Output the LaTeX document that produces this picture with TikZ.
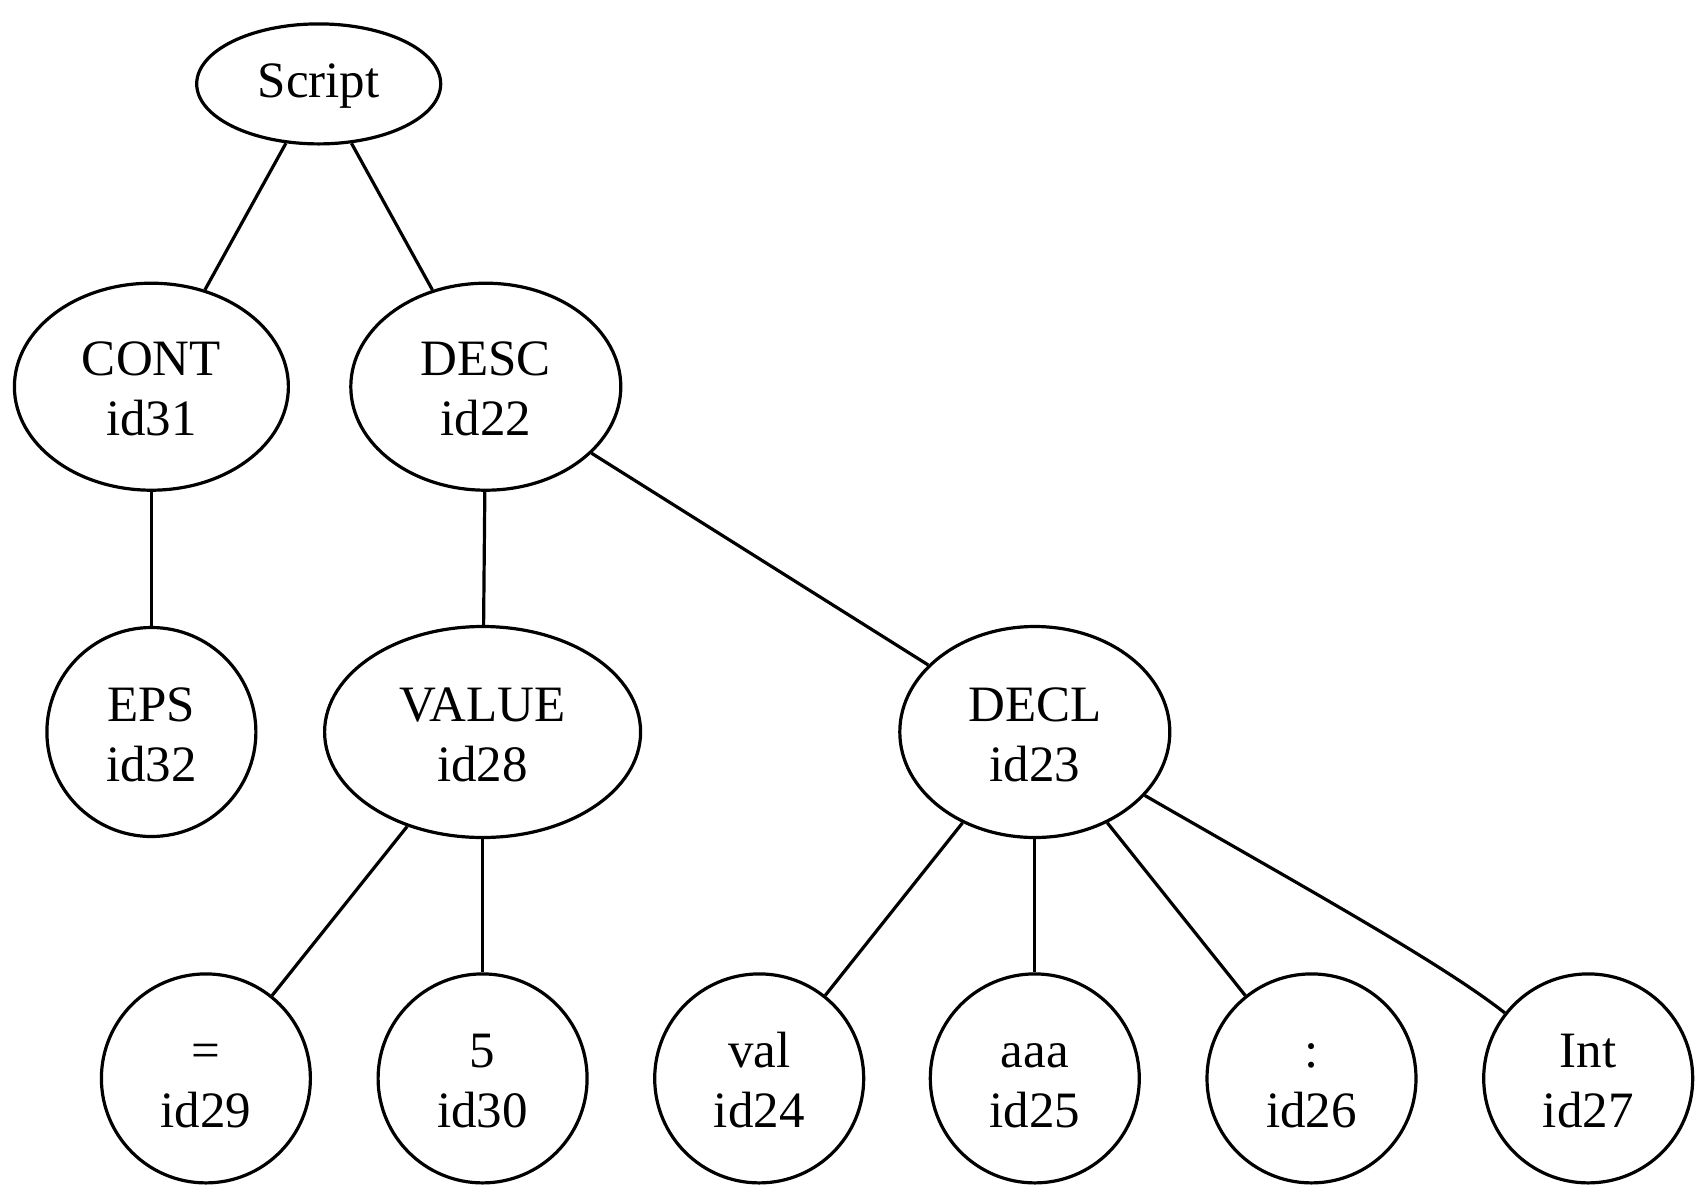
\documentclass[tikz,border=0pt]{standalone}
\usepackage{fontspec}
\setmainfont{Liberation Serif}
\usetikzlibrary{shapes.geometric}
% fixed line height so every label sits at the same place in its node
\newcommand\tstrut{\rule[-8pt]{0pt}{54pt}}
\newcommand\twoline[2]{\tstrut#1\\\tstrut#2}
\begin{document}
\begin{tikzpicture}[x=1pt,y=-1pt,
  tnode/.style={draw,line width=3.2pt,inner sep=0pt,align=center,
    font=\fontsize{51}{60}\selectfont},
  oval/.style={tnode,ellipse},
  leaf/.style={tnode,circle,minimum size=209pt},
  link/.style={line width=3.2pt}]
\useasboundingbox (0,0) rectangle (1708,1200);
% top level
\node[oval,minimum width=244pt,minimum height=120pt] (script) at (318.7,83.9) {\rule[-6pt]{0pt}{44pt}Script};
% second level
\node[oval,minimum width=274pt,minimum height=207pt] (cont) at (151.4,386.7) {\twoline{CONT}{id31}};
\node[oval,minimum width=270pt,minimum height=207pt] (desc) at (485.8,386.7) {\twoline{DESC}{id22}};
% third level
\node[leaf] (eps) at (151.4,732) {\twoline{EPS}{id32}};
\node[oval,minimum width=316pt,minimum height=211pt] (value) at (482.6,732) {\twoline{VALUE}{id28}};
\node[oval,minimum width=270pt,minimum height=211pt] (decl) at (1034.8,732) {\twoline{DECL}{id23}};
% leaves
\node[leaf] (eq) at (205.9,1078.4) {\twoline{=}{id29}};
\node[leaf] (five) at (482.6,1078.4) {\twoline{5}{id30}};
\node[leaf] (val) at (759.2,1078.4) {\twoline{val}{id24}};
\node[leaf] (aaa) at (1034.8,1078.4) {\twoline{aaa}{id25}};
\node[leaf] (colon) at (1311.5,1078.4) {\twoline{:}{id26}};
\node[leaf] (int) at (1588.2,1078.4) {\twoline{Int}{id27}};
% edges
\draw[link] (script) -- (cont);
\draw[link] (script) -- (desc);
\draw[link] (cont) -- (eps);
\draw[link] (desc) -- (value);
\draw[link] (desc) -- (decl);
\draw[link] (value) -- (eq);
\draw[link] (value) -- (five);
\draw[link] (decl) -- (val);
\draw[link] (decl) -- (aaa);
\draw[link] (decl) -- (colon);
\draw[link] (decl) .. controls (1300,885) and (1440,962) .. (int);
\end{tikzpicture}
\end{document}
